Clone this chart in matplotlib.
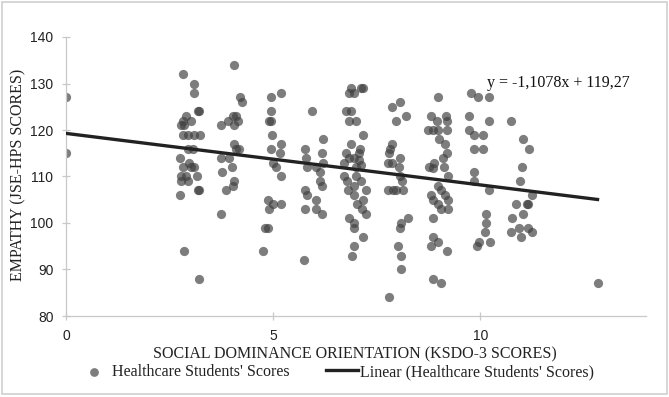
import numpy as np
import matplotlib
matplotlib.use("Agg")
import matplotlib.pyplot as plt
from matplotlib.patches import Rectangle

# KSDO-3 score (x) and JSE-HPS score (y)
ksdo = [
    0.00, 0.00,
    2.82, 4.06, 3.10, 3.10, 4.21, 4.24, 3.22, 3.18, 2.90, 2.82, 2.78, 3.02, 2.86,
    2.82, 2.94, 3.08, 3.23, 4.02, 4.10, 3.90, 4.14, 3.74, 4.06, 2.94, 3.06, 4.06,
    4.10, 4.18, 2.76, 3.74, 3.94, 2.96, 2.82, 3.02, 3.08, 4.00, 3.76, 2.78, 2.90,
    3.16, 2.78, 2.94, 4.06, 4.02, 3.18, 3.22, 3.86, 2.76, 3.74, 2.84, 3.20,
    4.94, 5.18, 4.94, 4.89, 4.94, 4.97, 4.96, 5.18, 5.16, 4.99, 5.08, 5.18, 4.88,
    4.89, 4.99, 5.20, 4.81, 4.88, 4.75, 5.94, 6.20, 5.78, 6.19, 5.80, 6.20, 5.82,
    6.04, 6.12, 6.14, 6.17, 5.76, 5.81, 6.04, 5.78, 6.04, 6.18, 5.74,
    6.88, 7.12, 7.18, 6.84, 6.94, 6.75, 6.88, 6.83, 6.99, 7.18, 6.88, 6.76, 7.07,
    7.10, 6.83, 6.94, 7.08, 6.72, 7.00, 7.12, 6.72, 7.00, 6.78, 6.96, 7.12, 6.80,
    7.23, 6.94, 7.16, 7.02, 7.15, 7.23, 6.83, 6.96, 6.96, 7.18, 6.96, 6.91, 7.79,
    7.87, 8.06, 8.21, 7.97, 7.87, 7.81, 7.79, 8.05, 7.77, 7.88, 8.03, 8.06, 8.11,
    7.77, 7.90, 7.97, 8.13, 8.25, 8.09, 8.06, 8.01, 8.09, 8.09,
    8.97, 8.80, 8.96, 9.17, 9.20, 8.75, 8.87, 8.99, 9.20, 9.01, 9.15, 9.20, 9.09,
    8.89, 8.77, 9.12, 8.87, 9.23, 8.97, 8.80, 9.04, 9.15, 8.87, 9.23, 8.97, 9.04,
    9.23, 8.85, 8.85, 8.97, 8.80, 9.20, 8.87, 9.04,
    9.78, 9.95, 10.22, 9.73, 10.20, 10.74, 9.73, 9.84, 10.06, 9.84, 10.06, 9.84,
    9.84, 10.22, 10.14, 10.14, 10.11, 9.98, 9.92, 10.24,
    11.04, 11.18, 11.00, 10.96, 11.24, 10.86, 11.12, 11.14, 11.02, 10.76, 10.74,
    10.94, 11.16, 10.98, 11.24, 12.83,
]
jse = [
    127, 115,
    132, 134, 130, 128, 127, 126, 124, 124, 123, 122, 121, 122, 121,
    119, 119, 119, 119, 123, 123, 122, 122, 121, 121, 116, 116, 117,
    116, 116, 114, 114, 114, 113, 112, 112, 112, 112, 111, 110, 110,
    110, 109, 109, 109, 108, 107, 107, 107, 106, 102, 94, 88,
    127, 128, 124, 122, 122, 119, 116, 117, 115, 113, 112, 110, 105,
    103, 104, 104, 99, 99, 94, 124, 118, 116, 115, 114, 113, 112,
    112, 111, 109, 108, 107, 106, 105, 103, 103, 102, 92,
    129, 129, 129, 128, 128, 124, 124, 122, 122, 119, 117, 115, 115,
    116, 114, 114, 113.5, 113, 112, 112.5, 110, 110, 109, 108, 109, 107,
    107, 106, 105, 104, 103, 102, 101, 100, 99, 97, 95, 93, 84,
    125, 126, 123, 122, 117, 116, 115, 114, 113, 113, 112, 110, 109,
    107, 107, 107, 107, 101, 100, 99, 95, 93, 90,
    127, 123, 122, 123, 122, 120, 120, 120, 120, 118, 117, 115, 114,
    113, 112, 112, 111.8, 110, 108, 106, 107, 106, 105, 105, 104, 103,
    103, 101, 97, 96, 95, 94, 88, 87,
    128, 127, 127, 123, 122, 122, 120, 119, 119, 116, 116, 111,
    109, 107, 102, 100, 98, 96, 95, 96,
    118, 116, 112, 109, 106, 104, 104, 104, 102, 101, 98,
    99, 99, 97, 98, 87,
]

# trendline as given in the chart
slope = -1.1078
intercept = 119.27
equation = "y = -1,1078x + 119,27"

x_ticks = [0, 5, 10]
y_ticks = [80, 90, 100, 110, 120, 130, 140]

fig = plt.figure(figsize=(6.69, 3.97), dpi=100)
ax = fig.add_axes([66 / 669, 1 - 316 / 397, 580 / 669, 279 / 397])

ax.scatter(ksdo, jse, s=44, color="#404040", alpha=0.68, linewidths=0, zorder=2,
           label="Healthcare Students' Scores")

xl = np.array([min(ksdo), max(ksdo)])
ax.plot(xl, slope * xl + intercept, color="#222222", lw=2.4, zorder=3,
        label="Linear (Healthcare Students' Scores)")

ax.set_xlim(0, 14)
ax.set_ylim(80, 140)
ax.set_xticks(x_ticks)
ax.set_yticks(y_ticks)

for side in ["top", "right"]:
    ax.spines[side].set_visible(False)
for side in ["left", "bottom"]:
    ax.spines[side].set_color("#c8c8c8")
    ax.spines[side].set_linewidth(0.9)
ax.tick_params(direction="inout", length=6, width=0.9, color="#c8c8c8",
               labelsize=10, labelcolor="#222222", pad=6)
for lab in ax.get_xticklabels() + ax.get_yticklabels():
    lab.set_family("Liberation Sans")

serif = "Liberation Serif"
fs = 11.5
fig.text(355 / 669, 1 - 354 / 397, "SOCIAL DOMINANCE ORIENTATION (KSDO-3 SCORES)",
         family=serif, fontsize=fs, color="#222222", ha="center", va="center")
fig.text(18 / 669, 1 - 175 / 397, "EMPATHY (JSE-HPS SCORES)", rotation=90,
         family=serif, fontsize=fs, color="#222222", ha="center", va="center")
fig.text(487 / 669, 1 - 83 / 397, equation, family=serif, fontsize=fs,
         color="#111111", ha="left", va="center")

leg = fig.legend(loc="center", bbox_to_anchor=(336 / 669, 1 - 372 / 397), ncol=2,
                 frameon=False, prop={"family": serif, "size": fs},
                 handlelength=2.0, handletextpad=0.1, columnspacing=2.3,
                 markerscale=0.95)
for t in leg.get_texts():
    t.set_color("#222222")

fig.patches.append(Rectangle((2 / 669, 3 / 397), 665 / 669, 392 / 397,
                             transform=fig.transFigure, fill=False,
                             edgecolor="#d0d0d0", lw=1.2))

fig.savefig("out.png", dpi=100)
